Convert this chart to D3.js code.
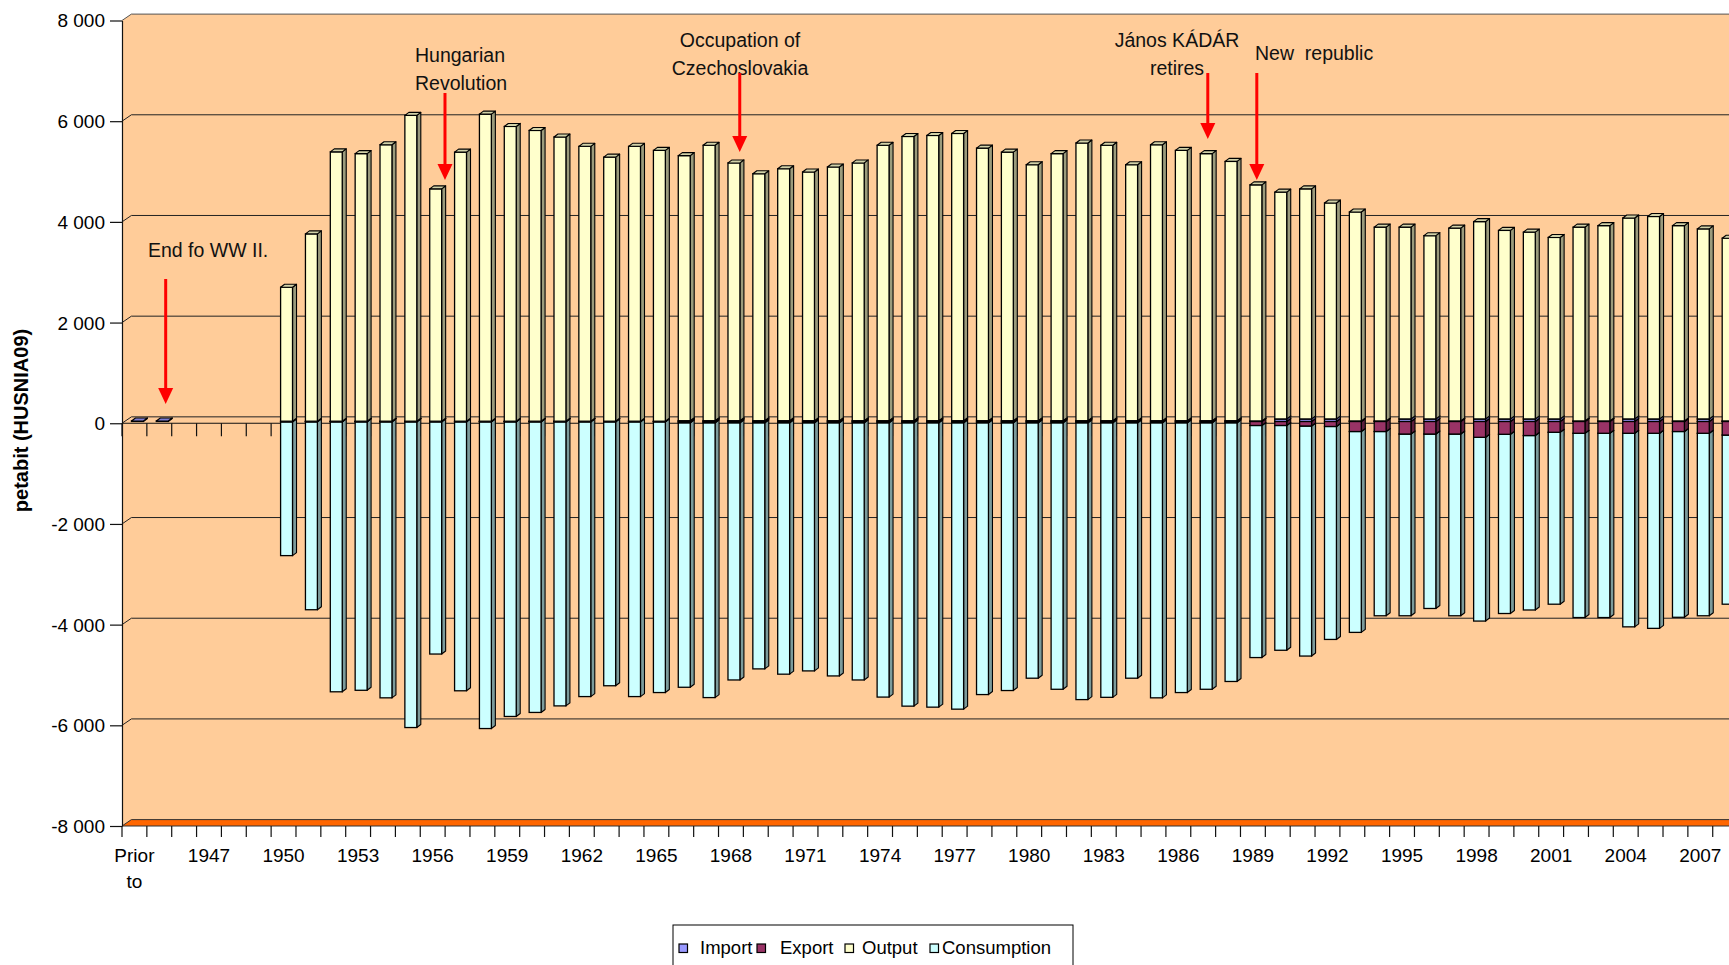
<!DOCTYPE html>
<html><head><meta charset="utf-8">
<script src="https://cdn.jsdelivr.net/npm/d3@7"></script>
<style>
html,body{margin:0;padding:0;background:#fff;overflow:hidden}
svg{display:block;font-family:"Liberation Sans",Arial,sans-serif}
</style></head><body>
<svg id="chart" width="1729" height="965"></svg>
<script>
// ---------------- DATA ----------------
const categories = ["Prior to","1945","1946","1947","1948","1949",
 "1950","1951","1952","1953","1954","1955","1956","1957","1958","1959",
 "1960","1961","1962","1963","1964","1965","1966","1967","1968","1969",
 "1970","1971","1972","1973","1974","1975","1976","1977","1978","1979",
 "1980","1981","1982","1983","1984","1985","1986","1987","1988","1989",
 "1990","1991","1992","1993","1994","1995","1996","1997","1998","1999",
 "2000","2001","2002","2003","2004","2005","2006","2007","2008"];

const importVals = [10,10,0,0,0,0,
 5,5,5,5,5,5,5,5,5,5,
 5,5,5,5,5,5,15,15,15,15,
 15,15,15,15,15,15,15,15,15,15,
 15,15,15,15,15,15,15,15,15,10,
 50,50,50,10,10,50,50,10,50,50,
 50,50,10,10,50,50,10,50,10];

const exportVals = [0,0,0,0,0,0,
 5,5,5,5,5,5,5,5,5,5,
 5,5,5,5,5,5,25,25,25,25,
 25,25,25,25,25,25,25,25,25,25,
 25,25,25,25,25,25,25,25,25,80,
 80,90,100,200,200,250,250,250,315,255,
 280,215,235,235,235,235,200,235,270];

const outputVals = [0,0,0,0,0,0,
 2660,3720,5350,5315,5490,6075,4615,5345,6100,5855,
 5775,5645,5460,5245,5460,5380,5265,5470,5120,4905,
 5005,4940,5040,5120,5470,5645,5665,5705,5415,5335,
 5085,5305,5515,5470,5085,5480,5370,5305,5150,4690,
 4505,4570,4290,4150,3850,3810,3640,3830,3920,3745,
 3710,3605,3850,3880,3990,4020,3880,3775,3630];

const consumptionVals = [0,0,0,0,0,0,
 2660,3735,5365,5335,5485,6075,4615,5345,6095,5855,
 5775,5645,5460,5245,5460,5380,5255,5460,5110,4890,
 4995,4930,5030,5110,5450,5630,5650,5690,5400,5320,
 5075,5295,5500,5455,5075,5465,5360,5295,5140,4610,
 4465,4570,4230,3990,3660,3610,3465,3610,3650,3560,
 3465,3415,3660,3660,3845,3875,3690,3625,3360];

const seriesNames = ["Import","Export","Output","Consumption"];
const yTickValues = [8000,6000,4000,2000,0,-2000,-4000,-6000,-8000];
const yDomain = [-8000, 8000];
const xLabelEvery = 3;
const yTitle = "petabit (HUSNIA09)";

const annotations = [
  {lines:["End fo WW II."], category:"1945"},
  {lines:["Hungarian","Revolution"], category:"1956"},
  {lines:["Occupation of","Czechoslovakia"], category:"1968"},
  {lines:["János KÁDÁR","retires"], category:"1987"},
  {lines:["New  republic"], category:"1989"}
];

// ---------------- LAYOUT / STYLE ----------------
const W = 1729, H = 965;
const X0 = 122, STEP = 24.855;
const Y_TOP = 20.5, Y_BOT = 826;
const WALL = {dx: 9.4, dy: -6.4};
const BAR = {dx: 4, dy: -3, shiftX: 3, shiftY: -1.8, frac: 0.48};
const X_END = W + 30;
const colors = {Import:"#9999FF", Export:"#993366", Output:"#FFFFCC", Consumption:"#CCFFFF"};
const wallColor = "#FFCC99", floorColor = "#FF6600";
const annLayout = [
  {x:148, anchor:"start", base:256.5, arrowDx:6.4, tail:279, tip:404},
  {x:415, anchor:"start", base:62.3, arrowDx:12.3, tail:93, tip:180},
  {x:740, anchor:"middle", base:47.3, arrowDx:8.8, tail:73, tip:152},
  {x:1177, anchor:"middle", base:46.7, arrowDx:4.6, tail:73, tip:139},
  {x:1255, anchor:"start", base:60, arrowDx:3.9, tail:73, tip:180}
];
const legendLayout = {box:[673,925,400,48], marker:[679,757,845,930], text:[700,780,862,942], base:954, my:944, ms:8.5};

// ---------------- SCALES ----------------
const svg = d3.select("#chart");
const x = d3.scaleBand().domain(categories).range([X0, X0 + STEP*categories.length]);
const y = d3.scaleLinear().domain(yDomain).range([Y_BOT, Y_TOP]);
const loc = d3.formatLocale({decimal:",", thousands:" ", grouping:[3], currency:["",""], minus:"-"});
const fmt = loc.format(",d");

// ---------------- WALLS ----------------
svg.append("polygon")
  .attr("points", [[X0,Y_TOP],[X0+WALL.dx,Y_TOP+WALL.dy],[X_END,Y_TOP+WALL.dy],[X_END,Y_BOT],[X0,Y_BOT]].map(p=>p.join(",")).join(" "))
  .attr("fill", wallColor);

svg.append("g").selectAll("path").data(yTickValues.filter(v=>v>yDomain[0])).join("path")
  .attr("d", v => `M${X0},${y(v)}L${X0+WALL.dx},${y(v)+WALL.dy}H${X_END}`)
  .attr("fill","none").attr("stroke", v => v===yDomain[1] ? "#555" : "#222").attr("stroke-width",1);

svg.append("polygon")
  .attr("points", [[X0,Y_BOT],[X0+WALL.dx,Y_BOT+WALL.dy],[X_END,Y_BOT+WALL.dy],[X_END,Y_BOT]].map(p=>p.join(",")).join(" "))
  .attr("fill", floorColor).attr("stroke","#333").attr("stroke-width",1);

const boundaries = categories.map(c => x(c)).concat([x(categories[categories.length-1]) + x.step()]);
svg.append("path").attr("d", `M${X0},${y(0)}H${X_END}`).attr("stroke","#111").attr("stroke-width",1.2);
svg.append("g").selectAll("line").data(boundaries).join("line")
  .attr("x1", d=>d).attr("x2", d=>d).attr("y1", y(0)).attr("y2", y(0)+13)
  .attr("stroke","#111").attr("stroke-width",1.2);

// ---------------- BARS ----------------
const table = categories.map((c,i) => ({
  category:c,
  Import: importVals[i], Export: -exportVals[i],
  Output: outputVals[i], Consumption: -consumptionVals[i]
}));
const stacked = d3.stack().keys(seriesNames).offset(d3.stackOffsetDiverging)(table);
const drawOrder = ["Consumption","Export","Import","Output"];
const bw = x.bandwidth()*BAR.frac;

const barGroups = svg.append("g").selectAll("g").data(categories).join("g");
barGroups.each(function(cat, i){
  const g = d3.select(this);
  const segs = drawOrder.map(k => {
    const s = stacked.find(ss => ss.key===k)[i];
    return {key:k, v0:Math.min(s[0],s[1]), v1:Math.max(s[0],s[1])};
  }).filter(s => s.v1 - s.v0 > 0);
  segs.forEach(s => {
    const xl = x(cat) + (x.bandwidth()-bw)/2 + BAR.shiftX;
    const xr = xl + bw;
    const yt = y(s.v1) + BAR.shiftY;
    const yb = y(s.v0) + BAR.shiftY;
    const base = d3.color(colors[s.key]);
    g.append("polygon")
      .attr("points", [[xr,yt],[xr+BAR.dx,yt+BAR.dy],[xr+BAR.dx,yb+BAR.dy],[xr,yb]].map(p=>p.join(",")).join(" "))
      .attr("fill", base.darker(1.4)).attr("stroke","#000").attr("stroke-width",1.1).attr("stroke-linejoin","round");
    g.append("rect").attr("x", xl).attr("y", yt).attr("width", bw).attr("height", Math.max(0.4, yb-yt))
      .attr("fill", colors[s.key]).attr("stroke","#000").attr("stroke-width",1.3);
    g.append("polygon")
      .attr("points", [[xl,yt],[xl+BAR.dx,yt+BAR.dy],[xr+BAR.dx,yt+BAR.dy],[xr,yt]].map(p=>p.join(",")).join(" "))
      .attr("fill", base.darker(0.55)).attr("stroke","#000").attr("stroke-width",1.1).attr("stroke-linejoin","round");
  });
});

// ---------------- AXES ----------------
const yAxis = d3.axisLeft(y).tickValues(yTickValues).tickFormat(fmt).tickSize(12).tickSizeOuter(0).tickPadding(5);
const gy = svg.append("g").attr("transform", `translate(${X0},0)`).call(yAxis);
gy.select(".domain").attr("stroke","#111").attr("stroke-width",1.2);
gy.selectAll(".tick line").attr("stroke","#111").attr("stroke-width",1.2);
gy.selectAll(".tick text").attr("font-size",19).attr("fill","#000")
  .attr("font-family","'Liberation Sans',Arial,sans-serif").attr("dy","0.34em");

svg.append("g").selectAll("line").data(boundaries).join("line")
  .attr("x1", d=>d).attr("x2", d=>d).attr("y1", Y_BOT).attr("y2", Y_BOT+11)
  .attr("stroke","#111").attr("stroke-width",1.2);

const xAxis = d3.axisBottom(x).tickValues(categories.filter((c,i)=> i % xLabelEvery === 0)).tickSize(0).tickPadding(0);
const gx = svg.append("g").attr("transform", `translate(0,${Y_BOT})`).call(xAxis);
gx.select(".domain").remove();
gx.selectAll(".tick text").each(function(d){
  const t = d3.select(this);
  t.text(null).attr("y",0).attr("dy",null)
   .attr("font-size",19).attr("fill","#000").attr("font-family","'Liberation Sans',Arial,sans-serif");
  d.split(" ").forEach((w,k) => {
    t.append("tspan").attr("x",0).attr("y", 35.7 + k*26.6).text(w);
  });
});

svg.append("text")
  .attr("transform","translate(28,420.5) rotate(-90)")
  .attr("text-anchor","middle").attr("font-size",20).attr("font-weight","bold").attr("fill","#000")
  .text(yTitle);

// ---------------- ANNOTATIONS ----------------
annotations.forEach((a, k) => {
  const L = annLayout[k];
  const t = svg.append("text").attr("font-size",19.5).attr("fill","#111")
    .attr("text-anchor", L.anchor).style("white-space","pre");
  a.lines.forEach((line, j) => {
    t.append("tspan").attr("x", L.x).attr("y", L.base + j*28).text(line);
  });
  const ax = x(a.category) + x.bandwidth()/2 + L.arrowDx;
  svg.append("line").attr("x1",ax).attr("x2",ax).attr("y1",L.tail).attr("y2",L.tip-14)
    .attr("stroke","#FF0000").attr("stroke-width",3);
  svg.append("polygon")
    .attr("points", [[ax-7.5,L.tip-16],[ax+7.5,L.tip-16],[ax,L.tip]].map(p=>p.join(",")).join(" "))
    .attr("fill","#FF0000");
});

// ---------------- LEGEND ----------------
const lg = svg.append("g");
lg.append("rect").attr("x",legendLayout.box[0]).attr("y",legendLayout.box[1])
  .attr("width",legendLayout.box[2]).attr("height",legendLayout.box[3])
  .attr("fill","#fff").attr("stroke","#000").attr("stroke-width",1);
seriesNames.forEach((n,k) => {
  lg.append("rect").attr("x",legendLayout.marker[k]).attr("y",legendLayout.my)
    .attr("width",legendLayout.ms).attr("height",legendLayout.ms)
    .attr("fill",colors[n]).attr("stroke","#000").attr("stroke-width",1.2);
  lg.append("text").attr("x",legendLayout.text[k]).attr("y",legendLayout.base)
    .attr("font-size",18.5).attr("fill","#000").text(n);
});
</script>
</body></html>
